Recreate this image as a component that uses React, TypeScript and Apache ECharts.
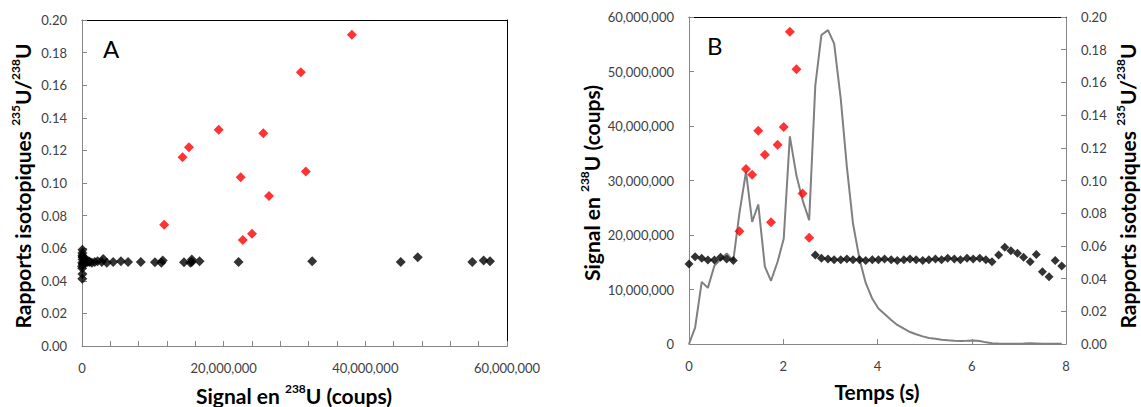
import React, { useEffect, useRef } from 'react';
import * as echarts from 'echarts';

// Acquisition times (s)
const timeS = [
  0.00, 0.13, 0.27, 0.40, 0.54, 0.67, 0.80, 0.94, 1.07, 1.21,
  1.34, 1.47, 1.61, 1.74, 1.88, 2.01, 2.14, 2.28, 2.41, 2.55,
  2.68, 2.81, 2.95, 3.08, 3.22, 3.35, 3.48, 3.62, 3.75, 3.89,
  4.02, 4.15, 4.29, 4.42, 4.56, 4.69, 4.82, 4.96, 5.09, 5.23,
  5.36, 5.49, 5.63, 5.76, 5.90, 6.03, 6.17, 6.30, 6.43, 6.57,
  6.70, 6.83, 6.97, 7.10, 7.24, 7.37, 7.50, 7.64, 7.77, 7.91,
];

// 238U signal (millions of counts)
const signalMillions = [
  0, 3.0, 11.4, 10.3, 14.4, 15.5, 16.6, 15.3, 24.0, 31.6,
  22.4, 25.6, 14.2, 11.6, 15.1, 19.3, 38.1, 30.9, 26.4, 22.7,
  47.4, 56.7, 57.6, 55.1, 45.0, 32.5, 22.1, 15.5, 11.2, 8.3,
  6.5, 5.5, 4.4, 3.5, 2.8, 2.2, 1.8, 1.4, 1.1, 0.95,
  0.8, 0.7, 0.6, 0.55, 0.6, 0.65, 0.55, 0.3, 0.15, 0.08,
  0.06, 0.05, 0.05, 0.08, 0.12, 0.1, 0.06, 0.04, 0.03, 0.03,
];

// 235U/238U isotopic ratio
const ratio = [
  0.049, 0.0534, 0.0524, 0.0514, 0.0514, 0.053, 0.052, 0.051, 0.0689, 0.107,
  0.1035, 0.1305, 0.1158, 0.0744, 0.1219, 0.1327, 0.191, 0.168, 0.092, 0.065,
  0.0544, 0.0525, 0.052, 0.0515, 0.0515, 0.052, 0.0515, 0.0515, 0.051, 0.0515,
  0.0515, 0.052, 0.0515, 0.051, 0.0515, 0.052, 0.0515, 0.051, 0.0515, 0.052,
  0.0515, 0.0525, 0.052, 0.0515, 0.0525, 0.052, 0.0525, 0.0515, 0.0503, 0.0544,
  0.0591, 0.057, 0.0555, 0.053, 0.0503, 0.0548, 0.0442, 0.0412, 0.051, 0.0477,
];

// 1 = enriched particle (red), 0 = natural (black)
const enriched = [
  0, 0, 0, 0, 0, 0, 0, 0, 1, 1,
  1, 1, 1, 1, 1, 1, 1, 1, 1, 1,
  0, 0, 0, 0, 0, 0, 0, 0, 0, 0,
  0, 0, 0, 0, 0, 0, 0, 0, 0, 0,
  0, 0, 0, 0, 0, 0, 0, 0, 0, 0,
  0, 0, 0, 0, 0, 0, 0, 0, 0, 0,
];

const FONT = 'Lato, "Open Sans", sans-serif';
const LABEL_COLOR = '#404040';
const AXIS_GRAY = '#868686';

function commas(v: number): string {
  const s = Math.round(v).toString();
  return s.replace(/\B(?=(\d{3})+(?!\d))/g, ',');
}

export default function App() {
  const ref = useRef<HTMLDivElement>(null);

  useEffect(() => {
    if (!ref.current) return;
    const chart = echarts.init(ref.current, undefined, { renderer: 'svg' });

    const n = Math.min(timeS.length, signalMillions.length, ratio.length, enriched.length);
    const signal = signalMillions.slice(0, n).map((m) => m * 1e6);
    const aBlack: number[][] = [];
    const aRed: number[][] = [];
    const bBlack: number[][] = [];
    const bRed: number[][] = [];
    const bLine: number[][] = [];
    for (let i = 0; i < n; i++) {
      const ptA = [signal[i], ratio[i]];
      const ptB = [timeS[i], ratio[i]];
      if (enriched[i]) {
        aRed.push(ptA);
        bRed.push(ptB);
      } else {
        aBlack.push(ptA);
        bBlack.push(ptB);
      }
      bLine.push([timeS[i], signal[i]]);
    }

    const tickStyle = { inside: true, length: 5, lineStyle: { color: AXIS_GRAY, width: 1 } };
    const labelStyle = { color: LABEL_COLOR, fontSize: 13, fontFamily: FONT, margin: 15 };
    const lineGray = { lineStyle: { color: AXIS_GRAY, width: 1 } };
    const dummy = (gridIndex: number, position: string) => ({
      type: 'value',
      gridIndex,
      position,
      min: 0,
      max: 1,
      axisLine: { show: true, onZero: false, lineStyle: { color: '#000', width: 1 } },
      axisTick: { show: false },
      axisLabel: { show: false },
      splitLine: { show: false },
    });

    const richTitle = {
      b: { fontSize: 21, fontWeight: 'bold', fontFamily: FONT, fill: '#000', lineHeight: 26 },
      s: { fontSize: 12, fontWeight: 'bold', fontFamily: FONT, fill: '#000', lineHeight: 13, verticalAlign: 'top' },
    };
    const ratioTitle = '{b|Rapports isotopiques }{s|235}{b|U/}{s|238}{b|U}';
    const signalTitle = '{b|Signal en }{s|238}{b|U (coups)}';

    const option: any = {
      animation: false,
      backgroundColor: '#fff',
      grid: [
        { left: 82, top: 20, width: 425, height: 326, containLabel: false },
        { left: 689, top: 17, width: 377, height: 327, containLabel: false },
      ],
      xAxis: [
        {
          type: 'value',
          gridIndex: 0,
          min: 0,
          max: 60000000,
          interval: 20000000,
          axisLine: { show: true, onZero: false, ...lineGray },
          axisTick: tickStyle,
          minorTick: { show: true, splitNumber: 5, length: 5, lineStyle: { color: AXIS_GRAY, width: 1 } },
          axisLabel: { ...labelStyle, formatter: (v: number) => commas(v) },
          splitLine: { show: false },
        },
        dummy(0, 'top'),
        {
          type: 'value',
          gridIndex: 1,
          min: 0,
          max: 8,
          interval: 2,
          axisLine: { show: true, onZero: false, ...lineGray },
          axisTick: tickStyle,
          axisLabel: { ...labelStyle },
          splitLine: { show: false },
        },
        dummy(1, 'top'),
      ],
      yAxis: [
        {
          type: 'value',
          gridIndex: 0,
          min: 0,
          max: 0.2,
          interval: 0.02,
          axisLine: { show: true, onZero: false, ...lineGray },
          axisTick: tickStyle,
          axisLabel: { ...labelStyle, formatter: (v: number) => v.toFixed(2) },
          splitLine: { show: false },
        },
        dummy(0, 'right'),
        {
          type: 'value',
          gridIndex: 1,
          position: 'left',
          min: 0,
          max: 60000000,
          interval: 10000000,
          axisLine: { show: true, onZero: false, ...lineGray },
          axisTick: tickStyle,
          axisLabel: { ...labelStyle, formatter: (v: number) => commas(v) },
          splitLine: { show: false },
        },
        {
          type: 'value',
          gridIndex: 1,
          position: 'right',
          min: 0,
          max: 0.2,
          interval: 0.02,
          axisLine: { show: true, onZero: false, ...lineGray },
          axisTick: tickStyle,
          axisLabel: { ...labelStyle, formatter: (v: number) => v.toFixed(2) },
          splitLine: { show: false },
        },
      ],
      series: [
        {
          name: 'A naturel',
          type: 'scatter',
          xAxisIndex: 0,
          yAxisIndex: 0,
          symbol: 'diamond',
          symbolSize: 10,
          itemStyle: { color: '#000' },
          data: aBlack,
        },
        {
          name: 'A enrichi',
          type: 'scatter',
          xAxisIndex: 0,
          yAxisIndex: 0,
          symbol: 'diamond',
          symbolSize: 10,
          itemStyle: { color: '#ff0000' },
          data: aRed,
        },
        {
          name: 'B signal',
          type: 'line',
          xAxisIndex: 2,
          yAxisIndex: 2,
          showSymbol: false,
          symbol: 'none',
          lineStyle: { color: '#808080', width: 2 },
          itemStyle: { color: '#808080' },
          data: bLine,
          z: 1,
        },
        {
          name: 'B naturel',
          type: 'scatter',
          xAxisIndex: 2,
          yAxisIndex: 3,
          symbol: 'diamond',
          symbolSize: 9,
          itemStyle: { color: '#000' },
          data: bBlack,
          z: 3,
        },
        {
          name: 'B enrichi',
          type: 'scatter',
          xAxisIndex: 2,
          yAxisIndex: 3,
          symbol: 'diamond',
          symbolSize: 10,
          itemStyle: { color: '#ff0000' },
          data: bRed,
          z: 3,
        },
      ],
      graphic: [
        {
          type: 'text',
          left: 103,
          top: 36,
          style: { text: 'A', fontSize: 24, fontFamily: FONT, fill: '#000' },
        },
        {
          type: 'text',
          left: 707,
          top: 33,
          style: { text: 'B', fontSize: 24, fontFamily: FONT, fill: '#000' },
        },
        {
          type: 'text',
          x: 22,
          y: 186,
          rotation: Math.PI / 2,
          style: { text: ratioTitle, rich: richTitle, align: 'center', verticalAlign: 'middle', fill: '#000' },
        },
        {
          type: 'text',
          x: 294,
          y: 395,
          style: { text: signalTitle, rich: richTitle, align: 'center', verticalAlign: 'middle', fill: '#000' },
        },
        {
          type: 'text',
          x: 591,
          y: 183,
          rotation: Math.PI / 2,
          style: { text: signalTitle, rich: richTitle, align: 'center', verticalAlign: 'middle', fill: '#000' },
        },
        {
          type: 'text',
          x: 1127,
          y: 186,
          rotation: Math.PI / 2,
          style: { text: ratioTitle, rich: richTitle, align: 'center', verticalAlign: 'middle', fill: '#000' },
        },
        {
          type: 'text',
          x: 877,
          y: 391,
          style: {
            text: 'Temps (s)',
            fontSize: 21,
            fontWeight: 'bold',
            fontFamily: FONT,
            fill: '#000',
            align: 'center',
            verticalAlign: 'middle',
          },
        },
      ],
    };

    chart.setOption(option);
    return () => chart.dispose();
  }, []);

  return (
    <div
      ref={ref}
      style={{ position: 'absolute', left: 0, top: 0, width: 1141, height: 407, background: '#fff' }}
    />
  );
}
